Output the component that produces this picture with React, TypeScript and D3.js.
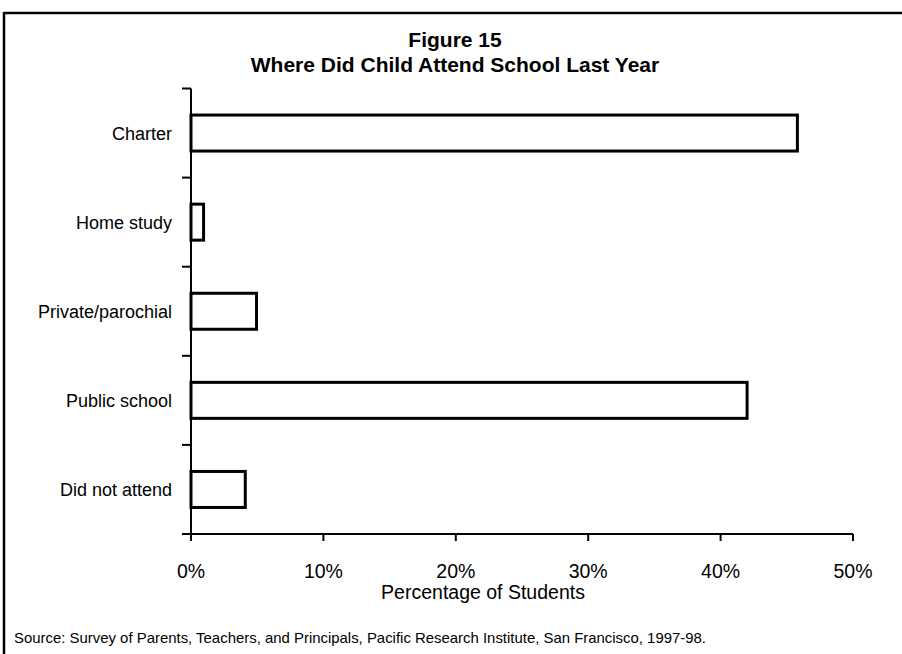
import React from "react";
import * as d3 from "d3";

const categories = ["Charter", "Home study", "Private/parochial", "Public school", "Did not attend"];
const values = [45.8, 0.95, 4.95, 42.0, 4.1];
const xTicks = [0, 10, 20, 30, 40, 50];
const titleLines = ["Figure 15", "Where Did Child Attend School Last Year"];
const xAxisTitle = "Percentage of Students";
const sourceText =
  "Source: Survey of Parents, Teachers, and Principals, Pacific Research Institute, San Francisco, 1997-98.";

const W = 902;
const H = 654;
const FONT = "'Liberation Sans', Arial, Helvetica, sans-serif";

export default function App() {
  const x = d3.scaleLinear().domain([0, 50]).range([191, 853]);
  const y = d3
    .scaleBand<string>()
    .domain(categories)
    .range([88.5, 534])
    .paddingInner(0.596)
    .paddingOuter(0.298);
  const step = y.step();
  const boundaries = d3.range(categories.length + 1).map((i) => 88.5 + i * step);
  const axisY = 534;

  return (
    <svg
      width={W}
      height={H}
      style={{ position: "absolute", left: 0, top: 0, background: "#fff" }}
    >
      <rect x={0} y={0} width={W} height={H} fill="#fff" />
      {/* frame */}
      <line x1={4} y1={13} x2={W} y2={13} stroke="#000" strokeWidth={2.5} />
      <line x1={4} y1={12} x2={4} y2={H} stroke="#000" strokeWidth={2.5} />

      {/* title */}
      <text x={455} y={47} textAnchor="middle" fontFamily={FONT} fontWeight="bold" fontSize={21}>
        {titleLines[0]}
      </text>
      <text x={455} y={72} textAnchor="middle" fontFamily={FONT} fontWeight="bold" fontSize={21}>
        {titleLines[1]}
      </text>

      {/* bars */}
      {categories.map((c, i) => (
        <rect
          key={c}
          x={x(0)}
          y={y(c)}
          width={x(values[i]) - x(0)}
          height={y.bandwidth()}
          fill="#fff"
          stroke="#000"
          strokeWidth={3}
        />
      ))}

      {/* y axis */}
      <line x1={x(0)} y1={boundaries[0]} x2={x(0)} y2={axisY} stroke="#000" strokeWidth={2} />
      {boundaries.map((b, i) => (
        <line key={i} x1={x(0) - 9} y1={b} x2={x(0)} y2={b} stroke="#000" strokeWidth={2} />
      ))}
      {categories.map((c) => (
        <text
          key={c}
          x={172}
          y={(y(c) as number) + y.bandwidth() / 2 + 6.5}
          textAnchor="end"
          fontFamily={FONT}
          fontSize={18}
        >
          {c}
        </text>
      ))}

      {/* x axis */}
      <line x1={x(0) - 9} y1={axisY} x2={x(50)} y2={axisY} stroke="#000" strokeWidth={2} />
      {xTicks.map((t) => (
        <g key={t}>
          <line x1={x(t)} y1={axisY} x2={x(t)} y2={axisY + 7} stroke="#000" strokeWidth={2} />
          <text x={x(t)} y={axisY + 44} textAnchor="middle" fontFamily={FONT} fontSize={19.5}>
            {t + "%"}
          </text>
        </g>
      ))}
      <text x={483} y={axisY + 65} textAnchor="middle" fontFamily={FONT} fontSize={19.5}>
        {xAxisTitle}
      </text>

      {/* source */}
      <text
        x={14}
        y={643}
        fontFamily={FONT}
        fontSize={15}
        textLength={692}
        lengthAdjust="spacingAndGlyphs"
      >
        {sourceText}
      </text>
    </svg>
  );
}
